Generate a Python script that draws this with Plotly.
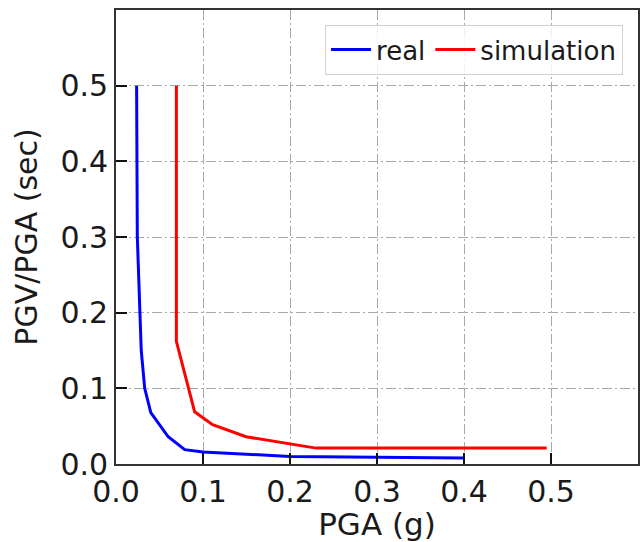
import plotly.graph_objects as go

real_pga = [0.0237, 0.0240, 0.0245, 0.0275, 0.0290, 0.0330, 0.0400, 0.0600, 0.0790, 0.1000, 0.2000, 0.4000]
real_ratio = [0.500, 0.400, 0.300, 0.200, 0.150, 0.100, 0.068, 0.036, 0.019, 0.016, 0.010, 0.008]

sim_pga = [0.0694, 0.0694, 0.0904, 0.1110, 0.1495, 0.2300, 0.4950]
sim_ratio = [0.500, 0.162, 0.069, 0.052, 0.036, 0.021, 0.021]

tick_vals = [0.0, 0.1, 0.2, 0.3, 0.4, 0.5]
tick_text = ["0.0", "0.1", "0.2", "0.3", "0.4", "0.5"]

FONT = "DejaVu Sans"
TXT = "#1a1a1a"

fig = go.Figure()
fig.add_trace(go.Scatter(x=real_pga, y=real_ratio, mode="lines", name="real",
                         line=dict(color="#0000ff", width=3)))
fig.add_trace(go.Scatter(x=sim_pga, y=sim_ratio, mode="lines", name="simulation",
                         line=dict(color="#ff0000", width=3)))

axis_common = dict(
    range=[0, 0.6],
    tickvals=tick_vals,
    ticktext=tick_text,
    ticks="inside",
    ticklen=11,
    tickwidth=2,
    tickcolor="#111111",
    showline=True,
    linecolor="#333333",
    linewidth=1.6,
    mirror=True,
    showgrid=True,
    gridcolor="#a8a8a8",
    gridwidth=1,
    griddash="10px,3px,2px,3px",
    zeroline=False,
    tickfont=dict(family=FONT, size=30, color=TXT),
)

fig.update_xaxes(**axis_common,
                 title=dict(text="PGA (g)", font=dict(family=FONT, size=31, color=TXT), standoff=6))
fig.update_yaxes(**axis_common,
                 title=dict(text="PGV/PGA (sec)", font=dict(family=FONT, size=30, color=TXT), standoff=14))

fig.update_layout(
    width=643, height=542,
    margin=dict(l=116, r=3, t=10, b=78),
    plot_bgcolor="white",
    paper_bgcolor="white",
    font=dict(family=FONT),
    legend=dict(
        orientation="h",
        x=0.971, y=0.967, xanchor="right", yanchor="top",
        bgcolor="rgba(255,255,255,0.85)",
        bordercolor="#d0d0d0", borderwidth=1.2,
        font=dict(family=FONT, size=26, color=TXT),
        itemwidth=40,
    ),
    showlegend=True,
)

fig.write_html("out.html")
